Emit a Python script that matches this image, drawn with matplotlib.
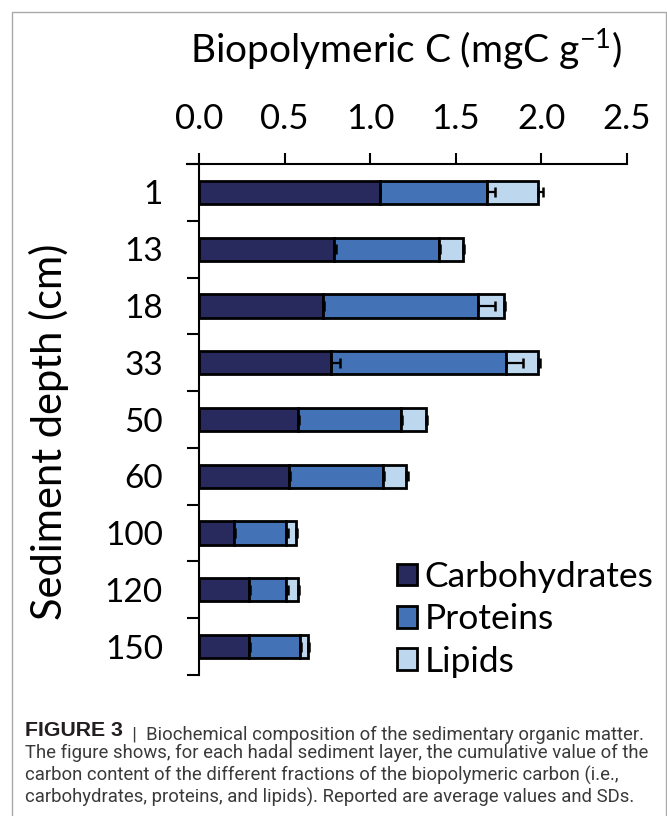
import matplotlib
matplotlib.use("Agg")
import matplotlib.pyplot as plt
import numpy as np
from matplotlib import font_manager
from matplotlib.patches import Rectangle

# ---------------- data ----------------
depths = ["1", "13", "18", "33", "50", "60", "100", "120", "150"]
carbohydrates = [1.055, 0.79, 0.725, 0.773, 0.578, 0.526, 0.203, 0.292, 0.292]
proteins = [0.625, 0.61, 0.905, 1.022, 0.60, 0.55, 0.307, 0.215, 0.30]
lipids = [0.30, 0.14, 0.15, 0.185, 0.15, 0.135, 0.055, 0.071, 0.045]
carb_sd = [0.005, 0.01, 0.003, 0.05, 0.005, 0.005, 0.005, 0.005, 0.005]
prot_sd = [0.05, 0.005, 0.10, 0.10, 0.005, 0.005, 0.01, 0.01, 0.005]
lip_sd = [0.03, 0.005, 0.01, 0.01, 0.005, 0.01, 0.005, 0.005, 0.005]
xticks = [0.0, 0.5, 1.0, 1.5, 2.0, 2.5]
series_names = ["Carbohydrates", "Proteins", "Lipids"]
colors = ["#28295C", "#4472B6", "#BDD7EE"]

names = {f.name for f in font_manager.fontManager.ttflist}
main_font = "Lato" if "Lato" in names else "DejaVu Sans"
cap_font = "Liberation Sans Narrow" if "Liberation Sans Narrow" in names else "Roboto"

plt.rcParams["font.family"] = [main_font, "DejaVu Sans"]
plt.rcParams["mathtext.default"] = "regular"

W, H = 667, 816
fig = plt.figure(figsize=(W / 100, H / 100), dpi=100)

def fx(px):
    return px / W

def fy(py):
    return 1 - py / H

# outer border
fig.add_artist(Rectangle((fx(12), -0.02), fx(654), fy(12) + 0.02,
                         transform=fig.transFigure, fill=False,
                         edgecolor="#a9a9a9", lw=1.0))

ax_l, ax_r, ax_t, ax_b = 199, 627, 164, 675
ax = fig.add_axes([fx(ax_l), fy(ax_b), fx(ax_r - ax_l), (ax_b - ax_t) / H])

y = np.arange(len(depths))
c = np.array(carbohydrates)
p = np.array(proteins)
l = np.array(lipids)
bh = 0.41
lw_edge = 2.0
b1 = ax.barh(y, c, height=bh, color=colors[0], edgecolor="black", lw=lw_edge, label=series_names[0], zorder=2)
b2 = ax.barh(y, p, left=c, height=bh, color=colors[1], edgecolor="black", lw=lw_edge, label=series_names[1], zorder=2)
b3 = ax.barh(y, l, left=c + p, height=bh, color=colors[2], edgecolor="black", lw=lw_edge, label=series_names[2], zorder=2)

zeros = np.zeros(len(depths))
for xs, sd in [(c, carb_sd), (c + p, prot_sd), (c + p + l, lip_sd)]:
    ax.errorbar(xs, y, xerr=[zeros, np.array(sd)], fmt="none", ecolor="black",
                elinewidth=1.6, capsize=3.8, capthick=1.8, zorder=3)

ax.set_xlim(0, 2.5)
ax.set_ylim(len(depths) - 0.5, -0.5)
for s in ["right", "bottom"]:
    ax.spines[s].set_visible(False)
ax.spines["top"].set_linewidth(1.5)
ax.spines["left"].set_linewidth(1.5)
ax.spines["top"].set_bounds(-0.07, 2.5)

ax.xaxis.set_ticks_position("top")
ax.set_xticks(xticks)
ax.set_xticklabels([f"{v:.1f}" for v in xticks])
ax.tick_params(axis="x", which="major", direction="out", length=8.0, width=1.5,
               pad=13, labelsize=25)

ax.set_yticks(y)
ax.set_yticklabels(depths)
ax.set_yticks(np.arange(-0.5, len(depths), 1.0), minor=True)
ax.tick_params(axis="y", which="major", length=0, pad=26, labelsize=24)
ax.tick_params(axis="y", which="minor", direction="out", length=8.6, width=1.5)
ax.patch.set_visible(False)

# title
fig.text(fx(406), fy(63), r"Biopolymeric C (mgC g$^{-1}$)", ha="center", va="baseline", fontsize=28)
# y label
fig.text(fx(49), fy(432), "Sediment depth (cm)", ha="center", va="center", rotation=90, fontsize=30)

# legend
leg = ax.legend(handles=[b1, b2, b3], loc="upper left", bbox_to_anchor=(fx(397), fy(561)),
                bbox_transform=fig.transFigure, frameon=False, fontsize=25.5,
                handlelength=0.57, handleheight=0.57, handletextpad=0.2,
                labelspacing=0.29, borderaxespad=0, borderpad=0)
for h in leg.legend_handles:
    h.set_linewidth(2.0)

# caption
ov = fig.add_axes([0, 0, 1, 1])
ov.set_axis_off()
ov.set_xlim(0, 1)
ov.set_ylim(0, 1)
cap_lines = [
    "The figure shows, for each hadal sediment layer, the cumulative value of the",
    "carbon content of the different fractions of the biopolymeric carbon (i.e.,",
    "carbohydrates, proteins, and lipids). Reported are average values and SDs.",
]
first_rest = "  |  Biochemical composition of the sedimentary organic matter."

# scale caption font to target width
probe = fig.text(0, 0, cap_lines[0], fontsize=12, family=cap_font)
fig.canvas.draw()
wpx = probe.get_window_extent().width
probe.remove()
cap_size = 12 * 620.0 / wpx

y0 = 736
dy = 22.3
bold = fig.text(fx(25), fy(y0), "FIGURE 3", fontsize=cap_size * 1.15,
                family=["Liberation Sans", "DejaVu Sans"],
                weight="bold", color="#231f20", ha="left", va="baseline")
ov.annotate(first_rest, xy=(1, 0), xycoords=bold, ha="left", va="baseline",
            fontsize=cap_size, family=cap_font, color="#3a3a3a")
for i, t in enumerate(cap_lines):
    fig.text(fx(25), fy(y0 + dy * (i + 1)), t, fontsize=cap_size, family=cap_font,
             color="#3a3a3a", ha="left", va="baseline")

fig.savefig("out.png", dpi=100)
